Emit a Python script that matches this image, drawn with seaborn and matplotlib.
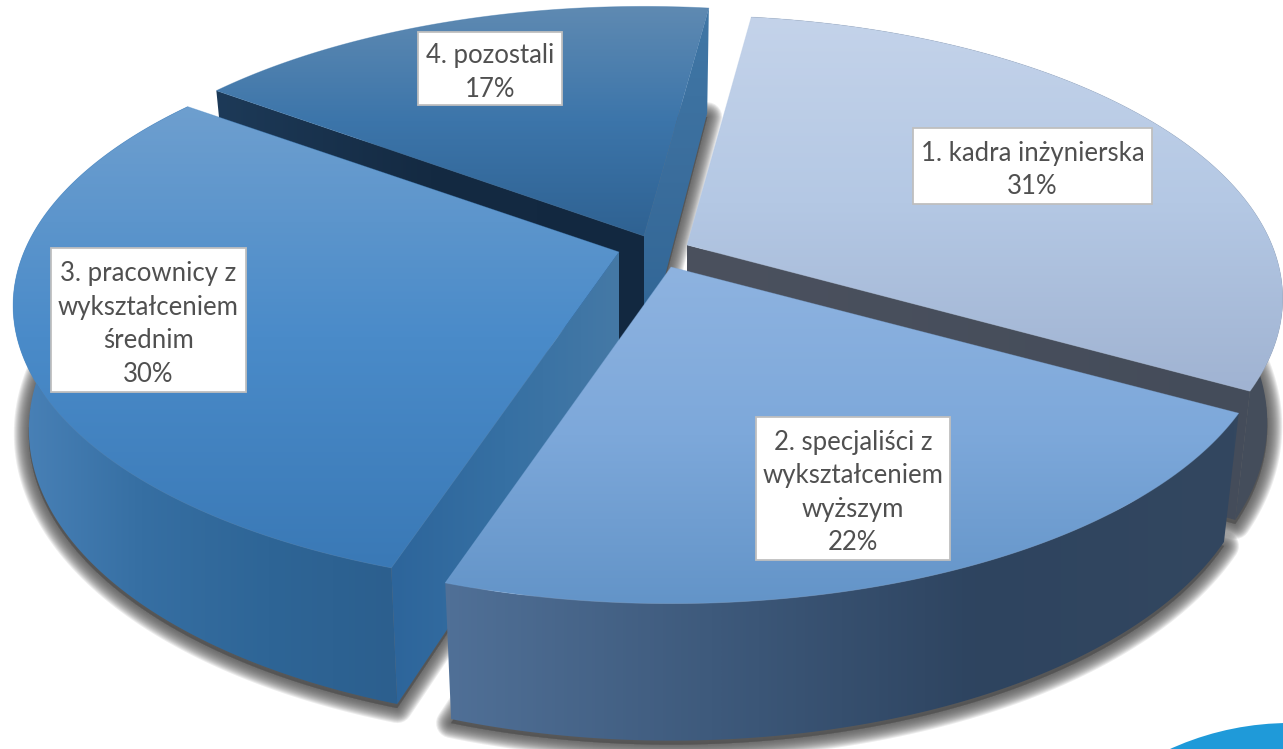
import numpy as np
import matplotlib
matplotlib.use("Agg")
import matplotlib.pyplot as plt
from matplotlib.patches import Polygon, Rectangle, Circle
import seaborn as sns

# ---- data ----
labels = ["1. kadra inżynierska", "2. specjaliści z\nwykształceniem\nwyższym",
          "3. pracownicy z\nwykształceniem\nśrednim", "4. pozostali"]
shares = [31, 22, 30, 17]

# ---- styling ----
START = 7.5
B, K = 273.0, 0.189
radii = [585.0, 590.0, 595.0, 590.0]
D0, D1, SHRINK = 121.0, 16.0, 0.974
apexes = [(687, 245), (671, 267), (619, 252), (644, 236)]
boxes = [(913, 128, 239, 76), (756, 417, 194, 143), (51, 248, 195, 144), (418, 32, 144, 73)]
top_cols = [["#c4d3ea", "#b4c8e4", "#a0b3d2"],
            ["#8eb3e0", "#7da8da", "#6394c8"],
            ["#6e9fcf", "#4a8bc9", "#3a79b6"],
            ["#5f8ab2", "#3c75aa", "#2f6292"]]
outer_cols = [["#4a5563", "#444d5c", "#454e5b"],
              ["#507097", "#3e5a7c", "#2e4460", "#33475f"],
              ["#4a82b8", "#366fa3", "#2e6596", "#2c5f8e"],
              ["#3a6d9c", "#3a6d9c"]]
sns.set_theme(style="white", rc={"font.family": ["Lato", "DejaVu Sans"]})

fig = plt.figure(figsize=(12.83, 7.49), dpi=100, facecolor="white")
ax = fig.add_axes([0, 0, 1, 1])
ax.set_xlim(0, 1283)
ax.set_ylim(749, 0)
ax.axis("off")


def top_pts(apex, th, A):
    th = np.radians(th)
    den = 1 + K * np.cos(th)
    return np.column_stack([apex[0] + A * np.sin(th) / den, apex[1] - B * np.cos(th) / den])


def bottom_pts(apex, th, pts):
    th = np.radians(th)
    out = pts.copy()
    out[:, 0] = apex[0] + (pts[:, 0] - apex[0]) * SHRINK
    out[:, 1] = pts[:, 1] + D0 - D1 * np.cos(th)
    return out


def bottom_apex(apex):
    return np.array([[apex[0], apex[1] + D0]])


def gradient(poly, cols, z, vertical=True, stroke=False):
    cmap = sns.blend_palette(cols, n_colors=256, as_cmap=True)
    x0, y0 = poly.min(axis=0)
    x1, y1 = poly.max(axis=0)
    g = np.linspace(0, 1, 256)
    g = g[:, None] if vertical else g[None, :]
    patch = Polygon(poly, closed=True, transform=ax.transData, fc="none", ec="none")
    ax.add_patch(patch)
    im = ax.imshow(g, extent=(x0, x1, y1, y0), cmap=cmap, vmin=0, vmax=1, aspect="auto",
                   zorder=z, interpolation="bilinear")
    im.set_clip_path(patch)
    if stroke:
        ax.add_patch(Polygon(poly, closed=True, fc="none", ec=cols[1], lw=0.6, alpha=0.4, zorder=z))


def shadow(poly, z=1):
    for w in range(30, 0, -2):
        ax.add_patch(Polygon(poly + [0, 4], closed=True, fc="#555555", ec="#555555",
                             lw=w * 0.72, alpha=0.11, joinstyle="round", zorder=z))


# angles of every slice derived from the shares
edges = START + np.cumsum([0] + shares) * 3.6
spans = [(edges[i], edges[i + 1]) for i in range(len(shares))]
tops, outers_b = [], []
for i, (a0, a1) in enumerate(spans):
    th = np.linspace(a0, a1, 160)
    t = top_pts(apexes[i], th, radii[i])
    b = bottom_pts(apexes[i], th, t)
    tops.append((th, t))
    outers_b.append(b)
    shadow(np.vstack([bottom_apex(apexes[i]), b]))

# painter's order: far slices first
z = 10
for i in [3, 0, 2, 1]:
    th, t = tops[i]
    b = outers_b[i]
    ap = np.array([apexes[i]], float)
    bap = bottom_apex(apexes[i])
    # outer wall
    if i != 3:
        gradient(np.vstack([t, b[::-1]]), outer_cols[i], z, vertical=False)
        z += 1
    # radial walls facing the viewer
    if i == 0:
        wall = np.vstack([ap, t[-1:], b[-1:], bap])
        gradient(wall, ["#4b515e", "#444c5a"], z, vertical=False)
        z += 1
    if i == 2:
        wall = np.vstack([ap, t[:1], b[:1], bap])
        gradient(wall, ["#2d659b", "#3670a3", "#4579a6"], z, vertical=False)
        z += 1
    if i == 3:
        wall = np.vstack([ap, t[:1], b[:1], bap])
        gradient(wall, ["#1d3a58", "#142a42", "#122840"], z, vertical=False)
        z += 1
        wall = np.vstack([ap, t[-1:], b[-1:], bap])
        gradient(wall, ["#4077a6", "#3a6d9c", "#2f6595"], z, vertical=True)
        z += 1
    gradient(np.vstack([ap, t]), top_cols[i], z, vertical=True, stroke=True)
    z += 1

# decorative corner circle
ax.add_patch(Circle((1290, 1013), 290, fc="#1f9ad9", ec="none", zorder=z))
ax.set_xlim(0, 1283)
ax.set_ylim(749, 0)
z += 1

# data labels
for lab, val, (x, y, w, h) in zip(labels, shares, boxes):
    ax.add_patch(Rectangle((x, y), w, h, fc="white", ec="#bfbfbf", lw=1.3, zorder=z))
    ax.text(x + w / 2, y + h / 2 + 4, f"{lab}\n{val}%", ha="center", va="center",
            fontsize=18.5, color="#505050", linespacing=1.42, zorder=z + 1)

fig.savefig("out.png", dpi=100, facecolor="white")
